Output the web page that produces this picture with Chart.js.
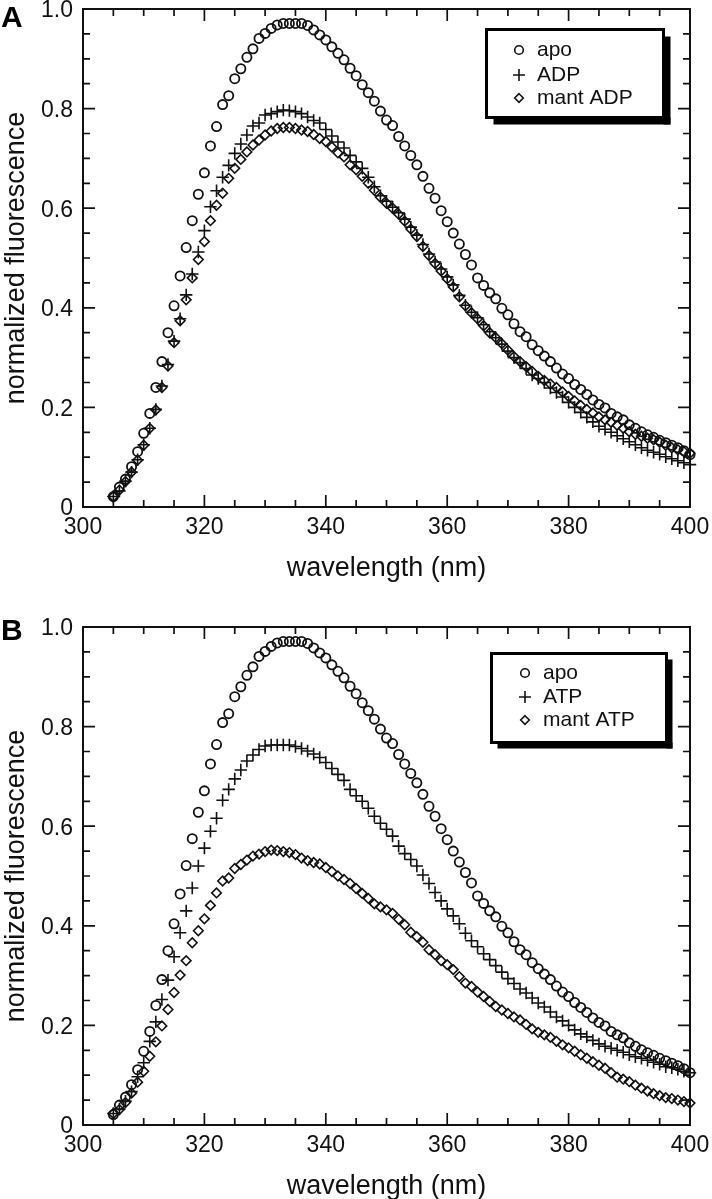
<!DOCTYPE html>
<html><head><meta charset="utf-8">
<script src="https://cdn.jsdelivr.net/npm/chart.js@4.4.0/dist/chart.umd.min.js"></script>
<style>
html,body{margin:0;padding:0;background:#fff;overflow:hidden;}
#wrap{position:relative;width:712px;height:1199px;overflow:hidden;background:#fff;}
canvas{position:absolute;left:0;}
</style></head><body>
<div id="wrap">
<canvas id="cA" width="712" height="600" style="top:0px"></canvas>
<canvas id="cB" width="712" height="618" style="top:600px"></canvas>
</div>
<script>
const wavelengths = [
305,306,307,308,309,310,311,312,313,314,
315,316,317,318,319,320,321,322,323,324,
325,326,327,328,329,330,331,332,333,334,
335,336,337,338,339,340,341,342,343,344,
345,346,347,348,349,350,351,352,353,354,
355,356,357,358,359,360,361,362,363,364,
365,366,367,368,369,370,371,372,373,374,
375,376,377,378,379,380,381,382,383,384,
385,386,387,388,389,390,391,392,393,394,
395,396,397,398,399,400];

const apo = [
0.021,0.040,0.056,0.081,0.111,0.148,0.188,0.240,0.292,0.350,
0.404,0.464,0.521,0.575,0.628,0.671,0.725,0.764,0.808,0.826,
0.860,0.880,0.903,0.920,0.941,0.951,0.961,0.968,0.971,0.971,
0.971,0.971,0.967,0.958,0.948,0.938,0.924,0.911,0.898,0.881,
0.866,0.848,0.832,0.815,0.795,0.777,0.766,0.744,0.725,0.706,
0.687,0.664,0.640,0.620,0.595,0.573,0.550,0.528,0.507,0.486,
0.460,0.445,0.430,0.418,0.399,0.386,0.368,0.352,0.342,0.326,
0.314,0.303,0.292,0.279,0.267,0.258,0.246,0.236,0.226,0.215,
0.206,0.199,0.188,0.181,0.175,0.165,0.158,0.151,0.145,0.140,
0.134,0.129,0.124,0.119,0.113,0.105];

const adp = [
0.021,0.032,0.052,0.070,0.095,0.125,0.158,0.196,0.243,0.286,
0.333,0.378,0.426,0.468,0.512,0.555,0.603,0.635,0.662,0.686,
0.710,0.729,0.747,0.765,0.771,0.787,0.790,0.794,0.797,0.796,
0.794,0.790,0.783,0.776,0.771,0.758,0.745,0.733,0.721,0.706,
0.693,0.680,0.662,0.643,0.625,0.614,0.602,0.591,0.578,0.562,
0.546,0.527,0.508,0.492,0.478,0.462,0.446,0.425,0.405,0.391,
0.380,0.366,0.352,0.340,0.327,0.313,0.300,0.290,0.278,0.265,
0.258,0.250,0.239,0.230,0.221,0.210,0.200,0.190,0.180,0.171,
0.162,0.156,0.150,0.143,0.137,0.131,0.125,0.119,0.114,0.110,
0.106,0.101,0.097,0.093,0.089,0.085];

const mantAdp = [
0.021,0.034,0.051,0.070,0.094,0.124,0.158,0.195,0.240,0.283,
0.330,0.374,0.416,0.460,0.497,0.533,0.575,0.606,0.630,0.660,
0.680,0.698,0.713,0.727,0.737,0.747,0.755,0.760,0.762,0.762,
0.760,0.757,0.754,0.748,0.740,0.734,0.723,0.711,0.703,0.687,
0.677,0.664,0.650,0.636,0.622,0.610,0.600,0.588,0.574,0.558,
0.543,0.523,0.505,0.489,0.474,0.458,0.442,0.422,0.404,0.390,
0.378,0.364,0.350,0.340,0.328,0.315,0.302,0.292,0.282,0.272,
0.262,0.254,0.247,0.240,0.231,0.222,0.213,0.204,0.196,0.189,
0.181,0.175,0.170,0.164,0.158,0.151,0.146,0.142,0.138,0.135,
0.130,0.124,0.119,0.115,0.111,0.108];

const atp = [
0.023,0.032,0.048,0.067,0.097,0.125,0.168,0.207,0.252,0.291,
0.338,0.386,0.430,0.476,0.520,0.556,0.590,0.616,0.652,0.674,
0.695,0.713,0.731,0.743,0.754,0.761,0.763,0.763,0.763,0.763,
0.760,0.756,0.751,0.745,0.738,0.728,0.716,0.704,0.692,0.674,
0.661,0.650,0.636,0.620,0.606,0.594,0.580,0.560,0.545,0.533,
0.520,0.502,0.485,0.467,0.450,0.434,0.420,0.404,0.385,0.370,
0.358,0.344,0.332,0.320,0.307,0.294,0.284,0.273,0.265,0.255,
0.245,0.237,0.227,0.217,0.209,0.200,0.191,0.183,0.177,0.170,
0.163,0.158,0.154,0.150,0.146,0.141,0.137,0.134,0.130,0.126,
0.122,0.117,0.115,0.112,0.108,0.105];

const mantAtp = [
0.023,0.031,0.045,0.064,0.086,0.108,0.138,0.167,0.199,0.232,
0.266,0.301,0.330,0.366,0.390,0.414,0.441,0.466,0.490,0.496,
0.515,0.523,0.532,0.540,0.544,0.549,0.552,0.551,0.549,0.547,
0.543,0.536,0.531,0.527,0.524,0.517,0.509,0.500,0.493,0.485,
0.475,0.465,0.455,0.444,0.438,0.432,0.425,0.413,0.402,0.387,
0.378,0.367,0.352,0.342,0.330,0.322,0.312,0.298,0.285,0.278,
0.267,0.258,0.248,0.238,0.231,0.224,0.217,0.211,0.202,0.193,
0.186,0.181,0.176,0.168,0.161,0.155,0.148,0.141,0.134,0.127,
0.120,0.114,0.105,0.096,0.092,0.087,0.080,0.074,0.068,0.063,
0.059,0.055,0.053,0.050,0.047,0.044];

const xTickValues = [300,320,340,360,380,400];
const xTickLabels = ['300','320','340','360','380','400'];
const yTickValues = [0,0.2,0.4,0.6,0.8,1.0];
const yTickLabels = ['0','0.2','0.4','0.6','0.8','1.0'];
const xMinorStep = 5;
const yMinorStep = 0.05;
const seriesNamesA = ['apo','ADP','mant ADP'];
const seriesNamesB = ['apo','ATP','mant ATP'];
const panelNames = ['A','B'];

const FONT = '"Liberation Sans", Arial, Helvetica, sans-serif';
const INK = '#111';

function pts(ys){ return wavelengths.map((w,i)=>({x:w,y:ys[i]})); }

function drawMarker(ctx, style, x, y, r){
  ctx.beginPath();
  if(style==='circle'){ ctx.arc(x,y,r,0,Math.PI*2); }
  else if(style==='cross'){ ctx.moveTo(x-r,y); ctx.lineTo(x+r,y); ctx.moveTo(x,y-r); ctx.lineTo(x,y+r); }
  else { ctx.moveTo(x,y-r); ctx.lineTo(x+r,y); ctx.lineTo(x,y+r); ctx.lineTo(x-r,y); ctx.closePath(); }
  ctx.stroke();
}

const frameTicks = {
  id:'frameTicks',
  afterDatasetsDraw(chart, args, o){
    const ctx = chart.ctx;
    const {left,right,top,bottom} = chart.chartArea;
    const xs = chart.scales.x, ys = chart.scales.y;
    ctx.save();
    ctx.strokeStyle = INK; ctx.lineWidth = 1.7;
    ctx.beginPath();
    for(let k = 0; xs.min + k*xMinorStep <= xs.max + 1e-9; k++){
      const v = xs.min + k*xMinorStep;
      const major = xTickValues.some(t=>Math.abs(t-v)<1e-6);
      const len = major ? 12 : 7;
      const px = xs.getPixelForValue(v);
      ctx.moveTo(px,bottom); ctx.lineTo(px,bottom-len);
      ctx.moveTo(px,top); ctx.lineTo(px,top+len);
    }
    for(let k = 0; ys.min + k*yMinorStep <= ys.max + 1e-9; k++){
      const v = ys.min + k*yMinorStep;
      const major = yTickValues.some(t=>Math.abs(t-v)<1e-6);
      const len = major ? 12 : 7;
      const py = ys.getPixelForValue(v);
      ctx.moveTo(left,py); ctx.lineTo(left+len,py);
      ctx.moveTo(right,py); ctx.lineTo(right-len,py);
    }
    ctx.stroke();
    ctx.lineWidth = 2;
    ctx.strokeRect(left,top,right-left,bottom-top);

    // legend box with drop shadow
    const L = o.legend;
    ctx.fillStyle = '#fff';
    ctx.fillRect(L.x,L.y,L.w,L.h);
    ctx.fillStyle = '#000';
    ctx.fillRect(L.x+L.w, L.y+L.sh, L.sh, L.h);
    ctx.fillRect(L.x+L.sh, L.y+L.h, L.w, L.sh);
    ctx.lineWidth = 3; ctx.strokeStyle = '#000';
    ctx.strokeRect(L.x,L.y,L.w,L.h);
    ctx.font = '21px ' + FONT;
    ctx.textBaseline = 'middle'; ctx.textAlign = 'left';
    ctx.fillStyle = INK;
    chart.data.datasets.forEach((ds,i)=>{
      ctx.lineWidth = 1.6; ctx.strokeStyle = INK;
      const st = ds.pointStyle;
      const r = st==='cross' ? 6 : 4.3;
      drawMarker(ctx, st, L.mx, L.rows[i], r);
      ctx.fillText(ds.label, L.tx, L.rows[i]);
    });

    // panel letter
    ctx.font = 'bold 30px ' + FONT;
    ctx.textBaseline = 'middle'; ctx.textAlign = 'left';
    ctx.fillStyle = '#000';
    ctx.fillText(o.letter, o.lx, o.ly);
    ctx.restore();
  }
};

function makeChart(id, names, series, padTop, cfg){
  const styles = ['circle','cross','rectRot'];
  const radii = [4.6,6.2,4.8];
  const widths = [1.8,1.6,1.6];
  const datasets = series.map((s,i)=>({
    label: names[i],
    data: pts(s),
    showLine:false,
    pointStyle: styles[i],
    pointRadius: radii[i],
    pointBorderWidth: widths[i],
    pointBorderColor: INK,
    pointBackgroundColor: 'rgba(0,0,0,0)',
    clip: false
  }));
  return new Chart(document.getElementById(id), {
    type:'scatter',
    data:{datasets},
    options:{
      responsive:false, animation:false, devicePixelRatio:1,
      events:[],
      layout:{padding:{left:0,right:22,top:padTop,bottom:0}},
      plugins:{legend:{display:false}, tooltip:{enabled:false}, frameTicks:cfg},
      scales:{
        x:{
          type:'linear', min:300, max:400, position:'bottom',
          afterBuildTicks(s){ s.ticks = xTickValues.map(v=>({value:v})); },
          ticks:{ callback:(v,i)=>xTickLabels[i], font:{size:23,family:FONT}, color:INK, padding:7, maxRotation:0, autoSkip:false },
          grid:{display:false, drawTicks:false, tickLength:0},
          border:{display:false},
          title:{display:true, text:'wavelength (nm)', font:{size:27,family:FONT}, color:INK, padding:{top:0,bottom:15}},
          afterFit(s){ s.height = 93; s.paddingLeft = 0; s.paddingRight = 0; }
        },
        y:{
          type:'linear', min:0, max:1, position:'left',
          afterBuildTicks(s){ s.ticks = yTickValues.map(v=>({value:v})); },
          ticks:{ callback:(v,i)=>yTickLabels[i], font:{size:23,family:FONT}, color:INK, padding:10, labelOffset:2, autoSkip:false },
          grid:{display:false, drawTicks:false, tickLength:0},
          border:{display:false},
          title:{display:true, text:'normalized fluorescence', font:{size:27,family:FONT}, color:INK, padding:{top:0,bottom:0}},
          afterFit(s){ s.width = 83; s.paddingTop = 0; s.paddingBottom = 0; }
        }
      }
    },
    plugins:[frameTicks]
  });
}

makeChart('cA', seriesNamesA, [apo, adp, mantAdp], 9, {
  letter: panelNames[0], lx: 1, ly: 19,
  legend:{x:486.5, y:29.5, w:177, h:88, sh:7, mx:519, tx:537, rows:[50,75,98]}
});
makeChart('cB', seriesNamesB, [apo, atp, mantAtp], 27, {
  letter: panelNames[1], lx: 1, ly: 32,
  legend:{x:491.5, y:53.5, w:175, h:89, sh:6, mx:525, tx:543, rows:[73,97,120]}
});
</script>
</body></html>
